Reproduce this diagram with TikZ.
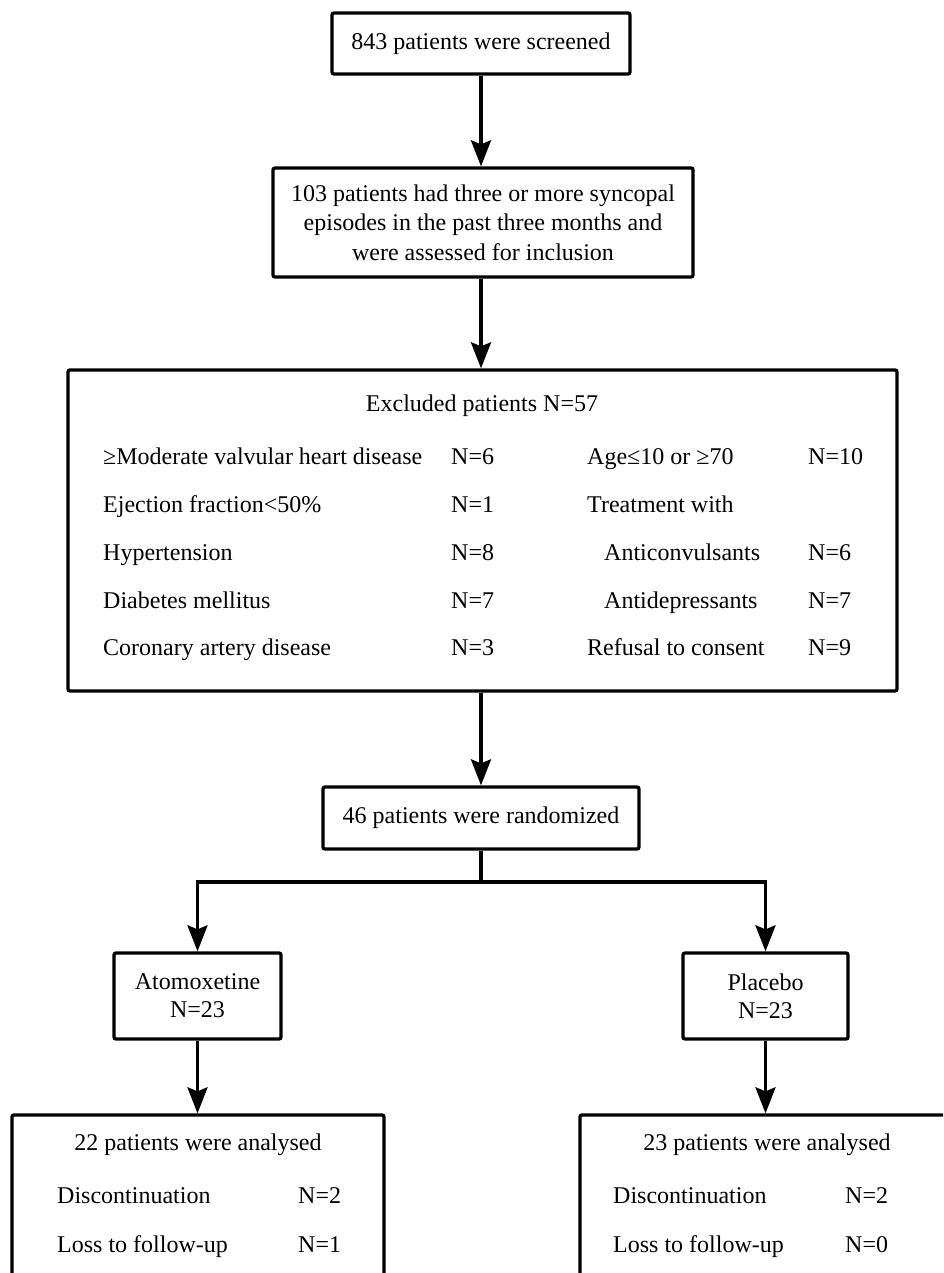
\documentclass[tikz,border=0pt]{standalone}
\usepackage{fontspec}
\setmainfont{Liberation Serif}
\usetikzlibrary{arrows.meta}
\newcommand\fsz{\fontsize{24}{29.5}\selectfont}
\begin{document}
\begin{tikzpicture}[x=1pt,y=-1pt,
  box/.style={draw,line width=3.3pt,rounded corners=2pt,inner sep=0pt,align=center,font=\fsz},
  arr/.style={line width=3.3pt,-{Stealth[length=26pt,width=20pt,inset=4pt]}},
  ln/.style={line width=3.3pt},
  lbl/.style={inner sep=0pt,anchor=base west,font=\fsz},
  ttl/.style={inner sep=0pt,anchor=base,font=\fsz}]
\useasboundingbox (0,0) rectangle (943,1273);
\clip (0,0) rectangle (943,1273);
% boxes
\node[box,minimum width=298pt,minimum height=61pt] (b1) at (481,43.5) {843 patients were screened};
\node[box,minimum width=420pt,minimum height=109pt] (b2) at (483,222.5)
  {103 patients had three or more syncopal\\episodes in the past three months and\\were assessed for inclusion};
\node[box,minimum width=829pt,minimum height=321pt] (b3) at (482.5,530.5) {};
\node[box,minimum width=316pt,minimum height=62pt] (b4) at (481,818) {46 patients were randomized};
\node[box,minimum width=167pt,minimum height=86pt,align=center] (b5) at (197.5,996) {Atomoxetine\\[-1.5pt]N=23};
\node[box,minimum width=165pt,minimum height=86pt,align=center] (b6) at (765.5,996) {Placebo\\[-1.5pt]N=23};
\node[box,minimum width=372pt,minimum height=205pt] (b7) at (198,1217.5) {};
\node[box,minimum width=420pt,minimum height=205pt] (b8) at (790,1217.5) {};
% excluded box contents
\node[ttl] (t3) at (482,411) {Excluded patients N=57};
\node[lbl] (l1) at (103,464) {≥Moderate valvular heart disease};
\node[lbl] (l2) at (103,512) {Ejection fraction<50\%};
\node[lbl] (l3) at (103,560) {Hypertension};
\node[lbl] (l4) at (103,608) {Diabetes mellitus};
\node[lbl] (l5) at (103,655) {Coronary artery disease};
\node[lbl] (n1) at (451,464) {N=6};
\node[lbl] (n2) at (451,512) {N=1};
\node[lbl] (n3) at (451,560) {N=8};
\node[lbl] (n4) at (451,608) {N=7};
\node[lbl] (n5) at (451,655) {N=3};
\node[lbl] (r1) at (587,464) {Age≤10 or ≥70};
\node[lbl] (r2) at (587,512) {Treatment with};
\node[lbl] (r3) at (604,560) {Anticonvulsants};
\node[lbl] (r4) at (604,608) {Antidepressants};
\node[lbl] (r5) at (587,655) {Refusal to consent};
\node[lbl] (m1) at (808,464) {N=10};
\node[lbl] (m3) at (808,560) {N=6};
\node[lbl] (m4) at (808,608) {N=7};
\node[lbl] (m5) at (808,655) {N=9};
% analysed boxes contents
\node[ttl] (t7) at (198,1150) {22 patients were analysed};
\node[lbl] (d7) at (57,1203) {Discontinuation};
\node[lbl] (e7) at (57,1252) {Loss to follow-up};
\node[lbl] (dn7) at (298,1203) {N=2};
\node[lbl] (en7) at (298,1252) {N=1};
\node[ttl] (t8) at (767,1150) {23 patients were analysed};
\node[lbl] (d8) at (613,1203) {Discontinuation};
\node[lbl] (e8) at (613,1252) {Loss to follow-up};
\node[lbl] (dn8) at (845,1203) {N=2};
\node[lbl] (en8) at (845,1252) {N=0};
% connectors
\draw[arr] (b1.south) -- (b1.south |- b2.north);
\draw[arr] (b2.south -| b1.south) -- (b1.south |- b3.north);
\draw[arr] (b3.south -| b1.south) -- (b1.south |- b4.north);
\coordinate (split) at (481,882);
\draw[ln] (b4.south) -- (split);
\draw[arr] (split) -| (b5.north);
\draw[arr] (split) -| (b6.north);
\draw[arr] (b5.south) -- (b5.south |- b7.north);
\draw[arr] (b6.south) -- (b6.south |- b8.north);
\end{tikzpicture}
\end{document}
